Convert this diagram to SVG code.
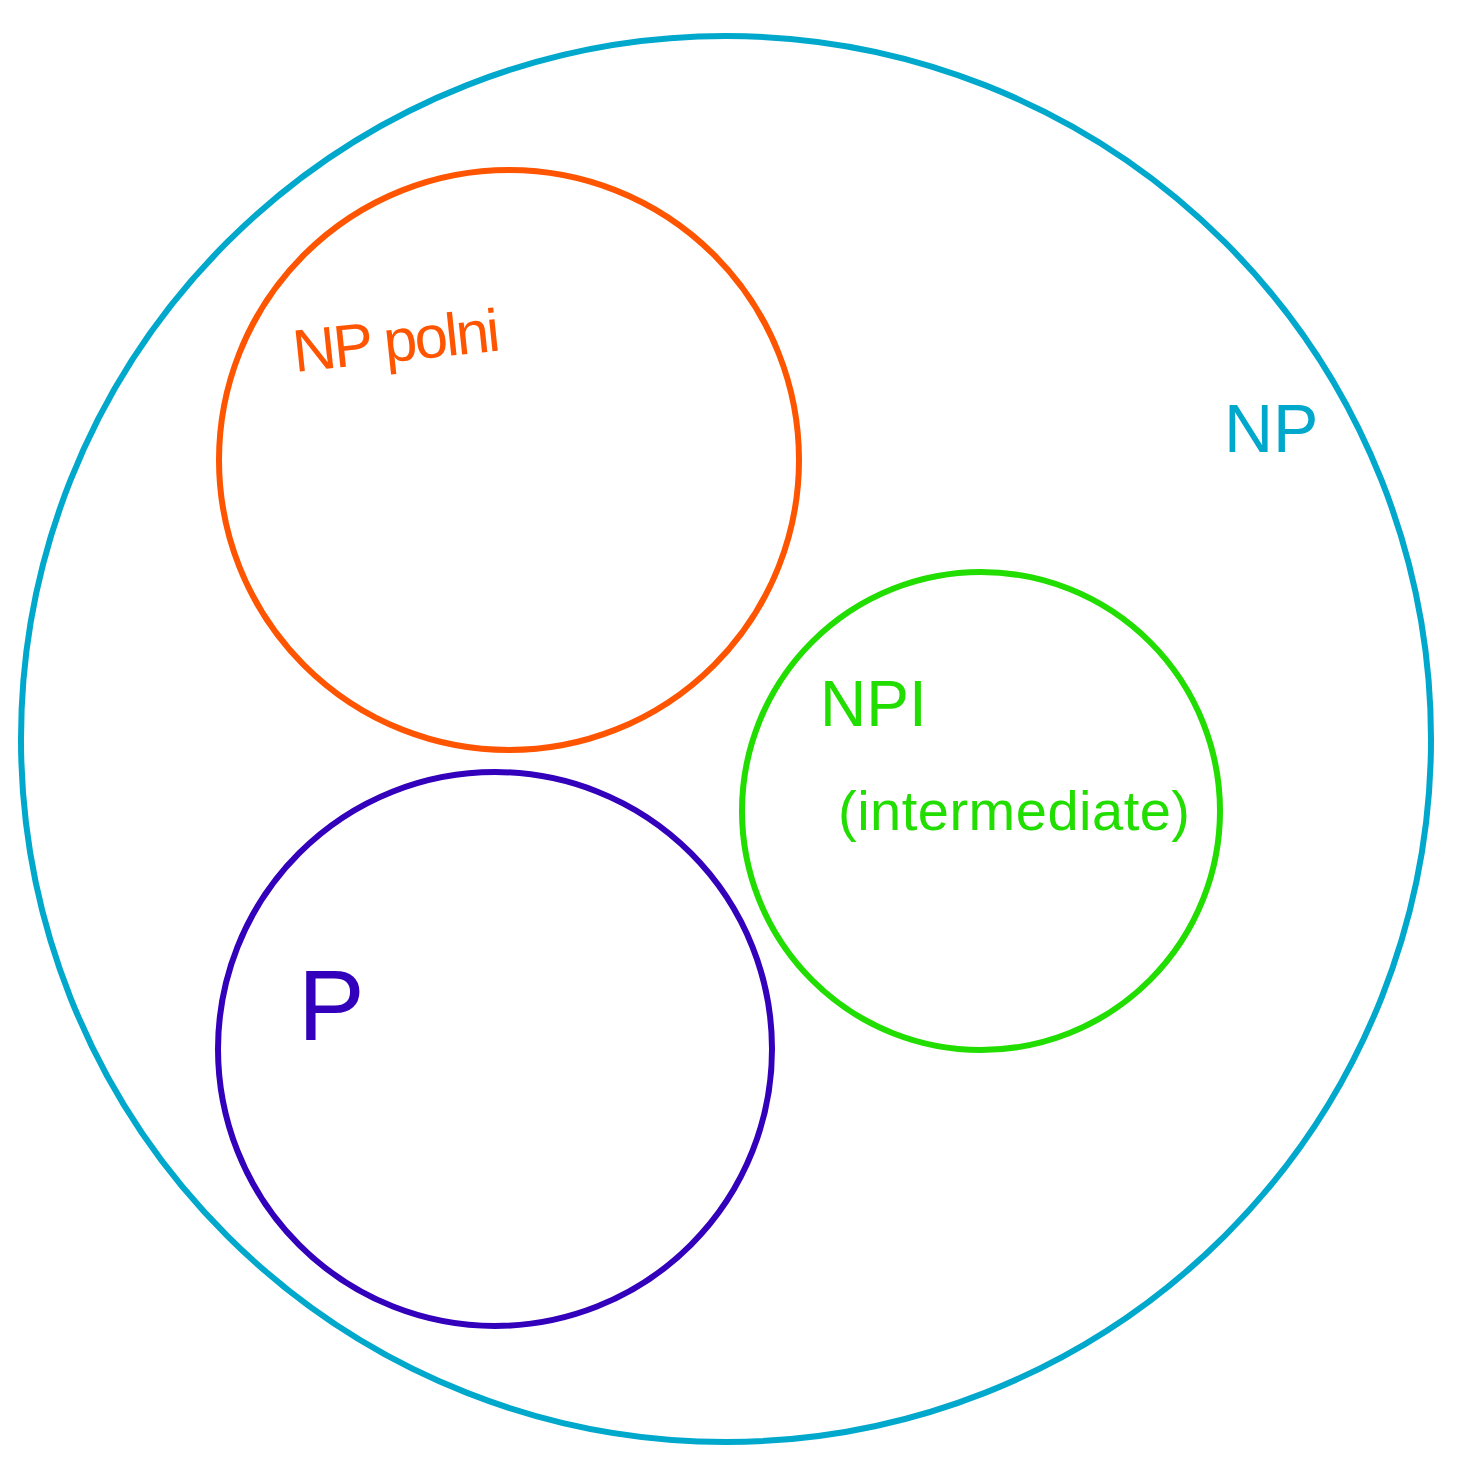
<svg xmlns="http://www.w3.org/2000/svg" width="1477" height="1463" viewBox="0 0 1477 1463">
<style>
.c{fill:none;stroke-width:6}
.t{font-family:"Liberation Sans","DejaVu Sans",sans-serif}
</style>
<rect width="1477" height="1463" fill="#fff"/>
<g id="np">
<ellipse class="c" cx="726" cy="739" rx="705" ry="703" stroke="#00A8CC"/>
<text class="t" x="1224" y="452" font-size="68" fill="#00A8CC">NP</text>
</g>
<g id="npc">
<circle class="c" cx="509" cy="460" r="290" stroke="#FF5500"/>
<text class="t" x="295" y="372" font-size="60" fill="#FF5500" textLength="208" transform="rotate(-6 295 372)">NP polni</text>
</g>
<g id="p">
<circle class="c" cx="495" cy="1049" r="277" stroke="#3300BB"/>
<text class="t" x="298" y="1040" font-size="100" fill="#3300BB">P</text>
</g>
<g id="npi">
<circle class="c" cx="981" cy="811" r="239" stroke="#22DD00"/>
<text class="t" x="820" y="726" font-size="64" fill="#22DD00">NPI</text>
<text class="t" x="838" y="830" font-size="56" fill="#22DD00" textLength="352">(intermediate)</text>
</g>
<g id="connectors"/>
</svg>
